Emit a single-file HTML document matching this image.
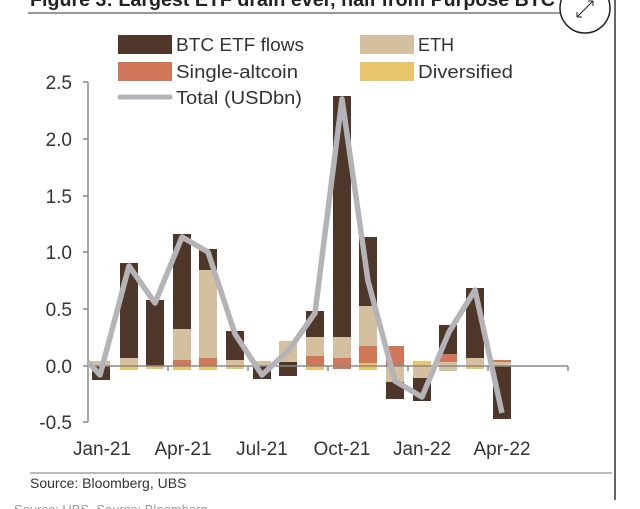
<!DOCTYPE html>
<html><head><meta charset="utf-8"><style>
body{margin:0;background:#fff;}
svg{display:block;font-family:"Liberation Sans",sans-serif;}
</style></head><body>
<svg width="640" height="509" viewBox="0 0 640 509">
<rect width="640" height="509" fill="#fff"/>
<text x="30" y="6" font-size="19" font-weight="bold" fill="#222" textLength="525" lengthAdjust="spacingAndGlyphs">Figure 3: Largest ETF drain ever, half from Purpose BTC</text>
<line x1="28" y1="13" x2="560" y2="13" stroke="#999" stroke-width="2"/>
<circle cx="585" cy="8" r="25" fill="#fff" stroke="#222" stroke-width="1.5"/>
<path d="M577 17 L593 1 M577 17 l0 -5 M577 17 l5 0 M593 1 l-5 0 M593 1 l0 5" stroke="#222" stroke-width="1" fill="none"/>
<line x1="615" y1="0" x2="615" y2="500" stroke="#333" stroke-width="1.5"/>
<g font-size="18" fill="#333">
<rect x="118" y="35" width="54" height="19" fill="#4e3629"/><text x="176" y="51" textLength="128" lengthAdjust="spacingAndGlyphs">BTC ETF flows</text>
<rect x="360" y="35" width="54" height="19" fill="#d4c09f"/><text x="418" y="51" textLength="36" lengthAdjust="spacingAndGlyphs">ETH</text>
<rect x="118" y="62" width="54" height="19" fill="#d0775a"/><text x="176" y="78" textLength="122" lengthAdjust="spacingAndGlyphs">Single-altcoin</text>
<rect x="360" y="62" width="54" height="19" fill="#e8c46a"/><text x="418" y="78" textLength="95" lengthAdjust="spacingAndGlyphs">Diversified</text>
<line x1="120" y1="97" x2="170" y2="97" stroke="#b4b4b8" stroke-width="5" stroke-linecap="round"/><text x="176" y="104" textLength="126" lengthAdjust="spacingAndGlyphs">Total (USDbn)</text>
</g>
<g stroke="#888" stroke-width="1.5">
<line x1="88" y1="82" x2="88" y2="422"/>
<line x1="83" y1="82" x2="88" y2="82"/><line x1="83" y1="139" x2="88" y2="139"/><line x1="83" y1="196" x2="88" y2="196"/><line x1="83" y1="252" x2="88" y2="252"/><line x1="83" y1="309" x2="88" y2="309"/><line x1="83" y1="366" x2="88" y2="366"/><line x1="83" y1="422" x2="88" y2="422"/>
</g>
<g font-size="19" fill="#333" text-anchor="end">
<text x="72" y="89">2.5</text><text x="72" y="146">2.0</text><text x="72" y="203">1.5</text><text x="72" y="259">1.0</text><text x="72" y="316">0.5</text><text x="72" y="373">0.0</text><text x="72" y="429">-0.5</text>
</g>
<g>
<rect x="92" y="361" width="18" height="5" fill="#d4c09f"/><rect x="92" y="366" width="18" height="14" fill="#4e3629"/>
<rect x="120" y="358" width="18" height="8" fill="#d4c09f"/><rect x="120" y="263" width="18" height="95" fill="#4e3629"/><rect x="120" y="366" width="18" height="4" fill="#e8c46a"/>
<rect x="146" y="300" width="18" height="66" fill="#4e3629"/><rect x="146" y="366" width="18" height="3" fill="#e8c46a"/>
<rect x="173" y="360" width="18" height="6" fill="#d0775a"/><rect x="173" y="329" width="18" height="31" fill="#d4c09f"/><rect x="173" y="234" width="18" height="95" fill="#4e3629"/><rect x="173" y="366" width="18" height="4" fill="#e8c46a"/>
<rect x="199" y="358" width="18" height="8" fill="#d0775a"/><rect x="199" y="270" width="18" height="88" fill="#d4c09f"/><rect x="199" y="249" width="18" height="21" fill="#4e3629"/><rect x="199" y="366" width="18" height="4" fill="#e8c46a"/>
<rect x="226" y="360" width="18" height="6" fill="#d4c09f"/><rect x="226" y="331" width="18" height="29" fill="#4e3629"/><rect x="226" y="366" width="18" height="3" fill="#e8c46a"/>
<rect x="253" y="361" width="18" height="5" fill="#d4c09f"/><rect x="253" y="366" width="18" height="13" fill="#4e3629"/>
<rect x="279" y="341" width="18" height="25" fill="#d4c09f"/><rect x="279" y="362" width="18" height="14" fill="#4e3629"/>
<rect x="306" y="356" width="18" height="10" fill="#d0775a"/><rect x="306" y="337" width="18" height="19" fill="#d4c09f"/><rect x="306" y="311" width="18" height="26" fill="#4e3629"/><rect x="306" y="366" width="18" height="4" fill="#e8c46a"/>
<rect x="333" y="358" width="18" height="8" fill="#d0775a"/><rect x="333" y="337" width="18" height="21" fill="#d4c09f"/><rect x="333" y="96" width="18" height="241" fill="#4e3629"/><rect x="333" y="366" width="18" height="3" fill="#d0775a"/>
<rect x="359" y="363" width="18" height="3" fill="#e8c46a"/><rect x="359" y="346" width="18" height="17" fill="#d0775a"/><rect x="359" y="306" width="18" height="40" fill="#d4c09f"/><rect x="359" y="237" width="18" height="69" fill="#4e3629"/><rect x="359" y="366" width="18" height="4" fill="#e8c46a"/>
<rect x="386" y="346" width="18" height="20" fill="#d0775a"/><rect x="386" y="366" width="18" height="16" fill="#d4c09f"/><rect x="386" y="382" width="18" height="17" fill="#4e3629"/>
<rect x="413" y="361" width="18" height="5" fill="#e8c46a"/><rect x="413" y="366" width="18" height="12" fill="#d4c09f"/><rect x="413" y="378" width="18" height="23" fill="#4e3629"/>
<rect x="439" y="362" width="18" height="4" fill="#d4c09f"/><rect x="439" y="354" width="18" height="8" fill="#d0775a"/><rect x="439" y="325" width="18" height="29" fill="#4e3629"/><rect x="439" y="366" width="18" height="5" fill="#d4c09f"/>
<rect x="466" y="358" width="18" height="8" fill="#d4c09f"/><rect x="466" y="288" width="18" height="70" fill="#4e3629"/><rect x="466" y="366" width="18" height="3" fill="#e8c46a"/>
<rect x="493" y="362" width="18" height="4" fill="#d4c09f"/><rect x="493" y="360" width="18" height="2" fill="#d0775a"/><rect x="493" y="366" width="18" height="53" fill="#4e3629"/>
</g>
<g stroke="#888" stroke-width="1.5">
<line x1="88" y1="366" x2="568" y2="366"/>
<line x1="168" y1="366" x2="168" y2="371"/><line x1="248" y1="366" x2="248" y2="371"/><line x1="328" y1="366" x2="328" y2="371"/><line x1="408" y1="366" x2="408" y2="371"/><line x1="488" y1="366" x2="488" y2="371"/><line x1="568" y1="366" x2="568" y2="371"/>
</g>
<polyline fill="none" stroke="#b4b4b8" stroke-width="5.5" stroke-linejoin="round" points="88,362 100,375 129,266 155,303 182,237 208,252 235,334 262,375 289,350 315,313 342,99 368,281 395,381 422,397 449,332 475,290 502,413"/>
<g font-size="19" fill="#333" text-anchor="middle">
<text x="102" y="455">Jan-21</text><text x="183" y="455">Apr-21</text><text x="262" y="455">Jul-21</text><text x="342" y="455">Oct-21</text><text x="422" y="455">Jan-22</text><text x="502" y="455">Apr-22</text>
</g>
<line x1="30" y1="473" x2="612" y2="473" stroke="#bbb" stroke-width="2"/>
<text x="30" y="488" font-size="14" fill="#333">Source: Bloomberg, UBS</text>
<text x="14" y="514" font-size="13" fill="#999">Source: UBS, Source: Bloomberg</text>
</svg>
</body></html>
